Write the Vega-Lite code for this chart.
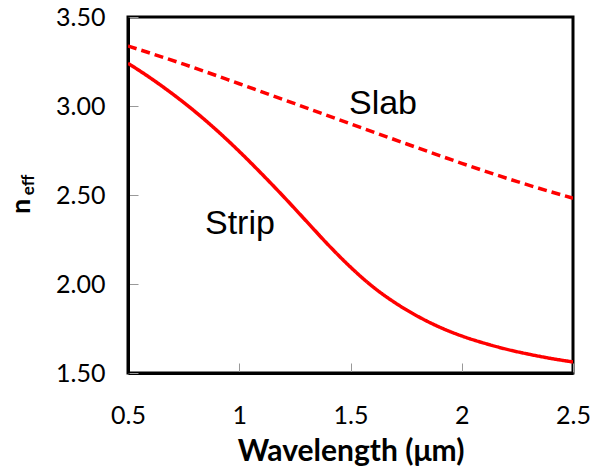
{
  "$schema": "https://vega.github.io/schema/vega-lite/v6.json",
  "width": 445,
  "height": 356,
  "autosize": {"type": "none"},
  "padding": {"left": 128, "top": 17, "right": 20, "bottom": 103},
  "background": "white",
  "view": {"stroke": "#000000", "strokeWidth": 3, "fill": "white"},
  "config": {
    "axis": {
      "labelFont": "Lato",
      "titleFont": "Lato",
      "labelColor": "black",
      "titleColor": "black",
      "grid": false,
      "tickColor": "#999999",
      "tickWidth": 1,
      "labelFlush": false
    }
  },
  "datasets": {
    "curves": [
      {"series": "Strip", "wavelength": 0.5, "neff": 3.24},
      {"series": "Strip", "wavelength": 0.6, "neff": 3.158},
      {"series": "Strip", "wavelength": 0.7, "neff": 3.068},
      {"series": "Strip", "wavelength": 0.8, "neff": 2.97},
      {"series": "Strip", "wavelength": 0.9, "neff": 2.862},
      {"series": "Strip", "wavelength": 1.0, "neff": 2.745},
      {"series": "Strip", "wavelength": 1.1, "neff": 2.62},
      {"series": "Strip", "wavelength": 1.2, "neff": 2.49},
      {"series": "Strip", "wavelength": 1.3, "neff": 2.355},
      {"series": "Strip", "wavelength": 1.4, "neff": 2.22},
      {"series": "Strip", "wavelength": 1.5, "neff": 2.095},
      {"series": "Strip", "wavelength": 1.6, "neff": 1.985},
      {"series": "Strip", "wavelength": 1.7, "neff": 1.895},
      {"series": "Strip", "wavelength": 1.8, "neff": 1.82},
      {"series": "Strip", "wavelength": 1.9, "neff": 1.758},
      {"series": "Strip", "wavelength": 2.0, "neff": 1.708},
      {"series": "Strip", "wavelength": 2.1, "neff": 1.668},
      {"series": "Strip", "wavelength": 2.2, "neff": 1.634},
      {"series": "Strip", "wavelength": 2.3, "neff": 1.606},
      {"series": "Strip", "wavelength": 2.4, "neff": 1.582},
      {"series": "Strip", "wavelength": 2.5, "neff": 1.562},
      {"series": "Slab", "wavelength": 0.5, "neff": 3.337},
      {"series": "Slab", "wavelength": 0.75, "neff": 3.235},
      {"series": "Slab", "wavelength": 1.0, "neff": 3.125},
      {"series": "Slab", "wavelength": 1.25, "neff": 3.013},
      {"series": "Slab", "wavelength": 1.5, "neff": 2.9},
      {"series": "Slab", "wavelength": 1.75, "neff": 2.788},
      {"series": "Slab", "wavelength": 2.0, "neff": 2.678},
      {"series": "Slab", "wavelength": 2.25, "neff": 2.575},
      {"series": "Slab", "wavelength": 2.5, "neff": 2.482}
    ],
    "labels": [
      {"label": "Slab", "wavelength": 1.646, "neff": 3.01},
      {"label": "Strip", "wavelength": 1.003, "neff": 2.337}
    ],
    "sub": [
      {"label": "eff", "wavelength": 0.055, "neff": 2.556}
    ]
  },
  "layer": [
    {
      "data": {"name": "curves"},
      "mark": {"type": "line", "color": "#ff0000", "strokeWidth": 3.5, "clip": true, "interpolate": "monotone"},
      "encoding": {
        "x": {
          "field": "wavelength", "type": "quantitative",
          "scale": {"domain": [0.5, 2.5], "nice": false, "zero": false},
          "axis": {
            "orient": "bottom",
            "values": [0.5, 1, 1.5, 2, 2.5],
            "format": "~g",
            "domain": true,
            "domainColor": "#000000",
            "domainWidth": 3,
            "tickSize": -10,
            "labelFontSize": 25,
            "labelPadding": 40,
            "title": "Wavelength (μm)",
            "titleFontSize": 30,
            "titleFontWeight": "bold",
            "titlePadding": 8
          }
        },
        "y": {
          "field": "neff", "type": "quantitative",
          "scale": {"domain": [1.5, 3.5], "nice": false, "zero": false},
          "axis": {
            "orient": "left",
            "values": [1.5, 2, 2.5, 3, 3.5],
            "format": ".2f",
            "domain": true,
            "domainColor": "#000000",
            "domainWidth": 3,
            "tickSize": -10,
            "labelFontSize": 25,
            "labelPadding": 33,
            "title": "n",
            "titleFontSize": 27,
            "titleFontWeight": "bold",
            "titleX": -93,
            "titleY": 189,
            "titleAngle": 270,
            "titleAlign": "center",
            "titleBaseline": "bottom"
          }
        },
        "detail": {"field": "series"},
        "strokeDash": {
          "field": "series", "type": "nominal",
          "scale": {"domain": ["Strip", "Slab"], "range": [[1, 0], [9, 5]]},
          "legend": null
        }
      }
    },
    {
      "data": {"name": "labels"},
      "mark": {"type": "text", "font": "Liberation Sans", "fontSize": 34, "color": "black", "align": "center", "baseline": "middle"},
      "encoding": {
        "x": {"field": "wavelength", "type": "quantitative"},
        "y": {"field": "neff", "type": "quantitative"},
        "text": {"field": "label"}
      }
    },
    {
      "data": {"name": "sub"},
      "mark": {"type": "text", "font": "Lato", "fontWeight": "bold", "fontSize": 17, "color": "black", "align": "center", "baseline": "middle", "angle": 270},
      "encoding": {
        "x": {"field": "wavelength", "type": "quantitative"},
        "y": {"field": "neff", "type": "quantitative"},
        "text": {"field": "label"}
      }
    }
  ]
}
